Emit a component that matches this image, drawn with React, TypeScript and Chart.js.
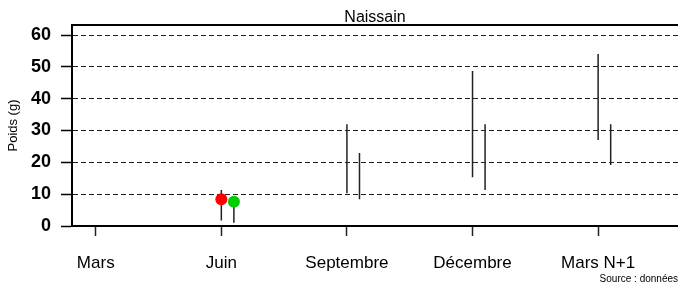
import React, { useEffect, useRef } from 'react';
import { Chart, registerables } from 'chart.js';

Chart.register(...registerables);

const categories = ['Mars', 'Juin', 'Septembre', 'Décembre', 'Mars N+1'];
const yTicks = [0, 10, 20, 30, 40, 50, 60];
const serie1Min = [null, 1.7, 10.3, 15.3, 27.0];
const serie1Max = [null, 11.3, 32.0, 48.7, 54.0];
const serie2Min = [null, 1.0, 8.4, 11.3, 19.2];
const serie2Max = [null, 9.0, 22.9, 32.0, 32.0];
const serie1Mean = [null, 8.4, null, null, null];
const serie2Mean = [null, 7.6, null, null, null];
const serie2Offset = 0.1;
const titleText = 'Naissain';
const yTitle = 'Poids (g)';
const sourceText = 'Source : données';

const FONT = '"Liberation Sans", Arial, Helvetica, sans-serif';

function rangePoints(mins: (number | null)[], maxs: (number | null)[], off: number) {
  const pts: { x: number; y: number | null }[] = [];
  categories.forEach((_, i) => {
    if (mins[i] == null || maxs[i] == null) return;
    pts.push({ x: i + off, y: mins[i] }, { x: i + off, y: maxs[i] }, { x: i + off, y: null });
  });
  return pts;
}

function meanPoints(means: (number | null)[], off: number) {
  const pts: { x: number; y: number }[] = [];
  categories.forEach((_, i) => {
    if (means[i] == null) return;
    pts.push({ x: i + off, y: means[i] as number });
  });
  return pts;
}

const framePlugin = {
  id: 'frameTop',
  afterDraw(chart: any) {
    const { ctx, chartArea } = chart;
    ctx.save();
    ctx.strokeStyle = '#000';
    ctx.lineWidth = 2;
    ctx.beginPath();
    ctx.moveTo(chartArea.left - 1, chartArea.top);
    ctx.lineTo(chartArea.right, chartArea.top);
    ctx.stroke();
    ctx.restore();
  },
};

export default function App() {
  const ref = useRef<HTMLCanvasElement | null>(null);
  useEffect(() => {
    document.body.style.margin = '0';
    if (!ref.current) return;
    const chart = new Chart(ref.current, {
      type: 'scatter',
      data: {
        datasets: [
          {
            data: meanPoints(serie1Mean, 0),
            backgroundColor: '#FF0000',
            borderWidth: 0,
            pointRadius: 6,
            order: 0,
          },
          {
            data: meanPoints(serie2Mean, serie2Offset),
            backgroundColor: '#00CC00',
            borderWidth: 0,
            pointRadius: 6,
            order: 0,
          },
          {
            data: rangePoints(serie1Min, serie1Max, 0),
            showLine: true,
            spanGaps: false,
            borderColor: '#222',
            borderWidth: 1.5,
            pointRadius: 0,
            order: 1,
          },
          {
            data: rangePoints(serie2Min, serie2Max, serie2Offset),
            showLine: true,
            spanGaps: false,
            borderColor: '#222',
            borderWidth: 1.5,
            pointRadius: 0,
            order: 1,
          },
        ] as any,
      },
      options: {
        animation: false,
        responsive: false,
        layout: { autoPadding: false, padding: 0 },
        plugins: {
          legend: { display: false },
          tooltip: { enabled: false },
          title: {
            display: true,
            text: titleText,
            fullSize: false,
            color: '#000',
            font: { family: FONT, size: 16, weight: 'normal', lineHeight: 1 },
            padding: { top: 10, bottom: -1 },
          },
          subtitle: {
            display: true,
            text: sourceText,
            position: 'bottom',
            align: 'end',
            fullSize: false,
            color: '#000',
            font: { family: FONT, size: 10, weight: 'normal', lineHeight: 1.2 },
            padding: { top: 0, bottom: 0 },
          },
        },
        scales: {
          x: {
            type: 'linear',
            min: -0.189,
            max: 4.636,
            afterBuildTicks: (scale: any) => {
              scale.ticks = categories.map((_, i) => ({ value: i }));
            },
            afterFit: (scale: any) => {
              scale.height = 47;
            },
            ticks: {
              autoSkip: false,
              maxRotation: 0,
              padding: 17,
              color: '#000',
              font: { family: FONT, size: 17, weight: 'normal' },
              callback: (v: any) => categories[v as number] ?? '',
            },
            grid: {
              drawOnChartArea: false,
              drawTicks: true,
              tickLength: 10,
              tickColor: '#222',
              tickWidth: 1.5,
            },
            border: { display: true, color: '#000', width: 2 },
          },
          y: {
            type: 'linear',
            min: 0,
            max: 63.15,
            afterBuildTicks: (scale: any) => {
              scale.ticks = yTicks.map((v) => ({ value: v }));
            },
            afterFit: (scale: any) => {
              scale.width = 72;
            },
            ticks: {
              padding: 10,
              color: '#000',
              font: { family: FONT, size: 18, weight: 'bold' },
            },
            title: {
              display: true,
              text: yTitle,
              color: '#000',
              font: { family: FONT, size: 13, weight: 'normal' },
              padding: { top: 6, bottom: 0 },
            },
            grid: {
              drawOnChartArea: true,
              drawTicks: true,
              tickLength: 11,
              color: (ctx: any) => (ctx.tick && ctx.tick.value === 0 ? 'rgba(0,0,0,0)' : '#222'),
              lineWidth: 1,
              tickColor: '#000',
              tickWidth: 1.5,
            },
            border: { display: true, color: '#000', width: 2, dash: [5, 3] },
          },
        },
      } as any,
      plugins: [framePlugin],
    });
    return () => chart.destroy();
  }, []);
  return (
    <div style={{ width: 678, height: 285 }}>
      <canvas ref={ref} width={678} height={285} style={{ display: 'block' }} />
    </div>
  );
}
